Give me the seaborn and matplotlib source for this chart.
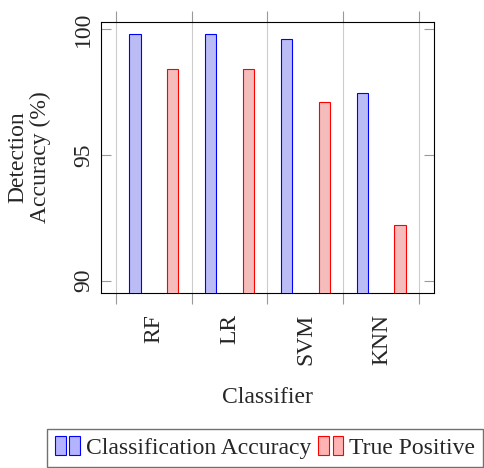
import numpy as np
import pandas as pd
import seaborn as sns
import matplotlib.pyplot as plt
from matplotlib.patches import Rectangle
from matplotlib.legend_handler import HandlerBase

classifiers = ['RF', 'LR', 'SVM', 'KNN']
class_acc = [99.8, 99.8, 99.6, 97.45]
true_pos = [98.4, 98.4, 97.1, 92.2]
series = ['Classification Accuracy', 'True Positive']

sns.set_theme(style='white')
plt.rcParams['font.family'] = ['Liberation Serif', 'DejaVu Serif']

FS = 17

df = pd.DataFrame({
  'Classifier': classifiers * 2,
  'value': class_acc + true_pos,
  'series': [series[0]] * 4 + [series[1]] * 4,
})

fills = {series[0]: (0.7, 0.7, 1.0), series[1]: (1.0, 0.7, 0.7)}
edges = {series[0]: 'blue', series[1]: 'red'}

fig = plt.figure(figsize=(4.85, 4.68), dpi=100)
ax = fig.add_axes([101/485, 1 - 293.3/468, (434-101)/485, (293.3-21.7)/468])

sns.barplot(data=df, x='Classifier', y='value', hue='series', hue_order=series,
            order=classifiers, palette=fills, width=1.0, gap=0.69,
            linewidth=0.8, legend=False, ax=ax)
for i, s in enumerate(series):
  for p in ax.containers[i]:
    p.set_edgecolor(edges[s])
    p.set_zorder(3)

ax.set_ylim(89.5, 100.3)
ax.set_xlim(-0.693, 3.693)
ax.set_yticks([90, 95, 100])
ax.set_yticklabels(['90', '95', '100'], rotation=90, va='center', fontsize=FS)
ax.tick_params(axis='y', direction='in', left=True, right=True, length=7,
               color='0.6', width=0.8, pad=5)

ax.set_xticks(range(len(classifiers)))
ax.set_xticklabels(classifiers, rotation=90, va='top', fontsize=FS)
ax.set_xticks(np.arange(-0.5, 4, 1), minor=True)
ax.tick_params(axis='x', which='major', length=0, pad=15)
ax.tick_params(axis='x', which='minor', direction='out', bottom=True, top=True,
               length=8, color='0.6', width=0.8)
ax.grid(True, axis='x', which='minor', color='0.8', linewidth=0.8, zorder=0)
ax.set_axisbelow(True)

for sp in ax.spines.values():
  sp.set_color('black')
  sp.set_linewidth(0.8)

ax.set_xlabel('Classifier', fontsize=FS, labelpad=16)
ax.set_ylabel('Detection\nAccuracy (%)', fontsize=FS, labelpad=16, linespacing=1.05)


class TwoBars(HandlerBase):
  def create_artists(self, legend, orig, xd, yd, w, h, fontsize, trans):
    bw = w * 0.42
    out = []
    for x0 in [-xd, -xd + w * 0.55]:
      r = Rectangle((x0, -yd - h * 0.1), bw, h * 1.2, facecolor=orig.get_facecolor(),
                    edgecolor=orig.get_edgecolor(), linewidth=0.8, transform=trans)
      out.append(r)
    return out


handles = [Rectangle((0, 0), 1, 1, facecolor=fills[s], edgecolor=edges[s]) for s in series]
fig.legend(handles, series, loc='upper center', bbox_to_anchor=(265/485, 1 - 429/468),
           ncol=2, fontsize=FS, frameon=True, fancybox=False, edgecolor='0.3',
           handler_map={Rectangle: TwoBars()}, handlelength=1.1, handletextpad=0.2,
           columnspacing=0.3, borderpad=0.35, borderaxespad=0)

fig.savefig('out.png', dpi=100)
